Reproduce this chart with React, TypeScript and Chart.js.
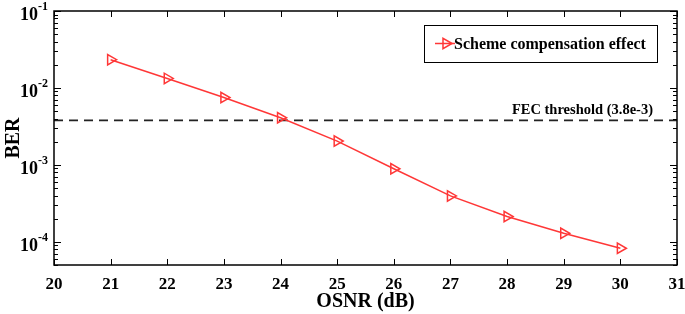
import React, { useEffect, useRef } from "react";
import { Chart, registerables } from "chart.js";

Chart.register(...registerables);

const osnr = [21, 22, 23, 24, 25, 26, 27, 28, 29, 30];
const ber = [0.0233, 0.0133, 0.0075, 0.0041, 0.00204, 0.00089, 0.000395, 0.000213, 0.000129, 0.0000825];
const fecThreshold = 3.8e-3;
const xTicks = [20, 21, 22, 23, 24, 25, 26, 27, 28, 29, 30, 31];
const yDecades = [-1, -2, -3, -4];
const seriesLabel = "Scheme compensation effect";
const fecLabel = "FEC threshold (3.8e-3)";

const FONT = "'Liberation Serif', 'Times New Roman', serif";
const RED = "rgb(255,55,55)";

export default function App() {
  const ref = useRef<HTMLCanvasElement>(null);
  useEffect(() => {
    document.body.style.margin = "0";
    const canvas = ref.current!;
    const drawRedTri = (ctx: CanvasRenderingContext2D, cx: number, cy: number, r: number) => {
      ctx.beginPath();
      ctx.moveTo(cx + r, cy);
      ctx.lineTo(cx - r * 0.5, cy - r * 0.866);
      ctx.lineTo(cx - r * 0.5, cy + r * 0.866);
      ctx.closePath();
      ctx.stroke();
    };
    const plugin = {
      id: "matlabAxes",
      afterDraw(chart: any) {
        const ctx: CanvasRenderingContext2D = chart.ctx;
        const { left, right, top, bottom } = chart.chartArea;
        const x = chart.scales.x;
        const y = chart.scales.y;
        ctx.save();
        ctx.strokeStyle = "#000";
        ctx.lineWidth = 1.5;
        ctx.strokeRect(left, top, right - left, bottom - top);
        ctx.lineWidth = 1;
        ctx.beginPath();
        for (const v of xTicks) {
          const px = Math.round(x.getPixelForValue(v)) + 0.5;
          ctx.moveTo(px, bottom);
          ctx.lineTo(px, bottom - 6);
          ctx.moveTo(px, top);
          ctx.lineTo(px, top + 6);
        }
        for (let e = -5; e <= -1; e++) {
          for (let m = 1; m <= 9; m++) {
            const v = m * Math.pow(10, e);
            if (v < y.min * 0.999 || v > y.max * 1.001) continue;
            const py = Math.round(y.getPixelForValue(v)) + 0.5;
            const len = m === 1 ? 7 : 4;
            ctx.moveTo(left, py);
            ctx.lineTo(left + len, py);
            ctx.moveTo(right, py);
            ctx.lineTo(right - len, py);
          }
        }
        ctx.stroke();

        // y tick labels
        ctx.fillStyle = "#000";
        ctx.textBaseline = "alphabetic";
        for (const e of yDecades) {
          const py = y.getPixelForValue(Math.pow(10, e));
          ctx.font = `bold 12px ${FONT}`;
          const expStr = `${e}`;
          const ew = ctx.measureText(expStr).width;
          ctx.textAlign = "left";
          ctx.fillText(expStr, left - 6 - ew, py - 1);
          ctx.font = `bold 18px ${FONT}`;
          ctx.textAlign = "right";
          ctx.fillText("10", left - 6 - ew, py + 9);
        }

        // y title
        ctx.save();
        ctx.translate(14, (top + bottom) / 2);
        ctx.rotate(-Math.PI / 2);
        ctx.font = `bold 20px ${FONT}`;
        ctx.textAlign = "center";
        ctx.textBaseline = "middle";
        ctx.fillText("BER", 0, 0);
        ctx.restore();

        // FEC label
        const fy = y.getPixelForValue(fecThreshold);
        ctx.font = `bold 14.5px ${FONT}`;
        ctx.textAlign = "right";
        ctx.textBaseline = "alphabetic";
        ctx.fillText(fecLabel, right - 24, fy - 6);

        // legend
        const lx = 424, ly = 25, lw = 233, lh = 37;
        ctx.fillStyle = "#fff";
        ctx.fillRect(lx, ly, lw, lh);
        ctx.strokeStyle = "#000";
        ctx.lineWidth = 1;
        ctx.strokeRect(lx + 0.5, ly + 0.5, lw, lh);
        const cy = ly + lh / 2;
        ctx.strokeStyle = RED;
        ctx.lineWidth = 1.5;
        ctx.beginPath();
        ctx.moveTo(lx + 11, cy);
        ctx.lineTo(lx + 31, cy);
        ctx.stroke();
        drawRedTri(ctx, lx + 22, cy, 6);
        ctx.fillStyle = "#000";
        ctx.font = `bold 16px ${FONT}`;
        ctx.textAlign = "left";
        ctx.textBaseline = "middle";
        ctx.fillText(seriesLabel, lx + 30, cy + 1);
        ctx.restore();
      },
    };

    const chart = new Chart(canvas, {
      type: "line",
      data: {
        datasets: [
          {
            label: seriesLabel,
            data: osnr.map((v, i) => ({ x: v, y: ber[i] })),
            borderColor: RED,
            backgroundColor: "rgba(0,0,0,0)",
            borderWidth: 1.5,
            pointStyle: "triangle",
            rotation: 90,
            pointRadius: 6,
            pointBorderWidth: 1.5,
            pointBorderColor: RED,
            pointBackgroundColor: "rgba(0,0,0,0)",
            tension: 0,
            order: 1,
          },
          {
            label: "FEC",
            data: [
              { x: 20, y: fecThreshold },
              { x: 31, y: fecThreshold },
            ],
            borderColor: "#222",
            borderWidth: 1.8,
            borderDash: [9, 6],
            pointRadius: 0,
            order: 2,
          },
        ],
      },
      options: {
        animation: false,
        responsive: false,
        maintainAspectRatio: false,
        layout: { padding: { top: 11, right: 8, left: 0, bottom: 0 } },
        plugins: { legend: { display: false }, tooltip: { enabled: false } },
        scales: {
          x: {
            type: "linear",
            min: 20,
            max: 31,
            grid: { display: false, drawTicks: false },
            border: { display: false },
            afterBuildTicks: (s: any) => {
              s.ticks = xTicks.map((v) => ({ value: v }));
            },
            ticks: {
              color: "#000",
              font: { family: FONT, size: 17, weight: "bold" },
              padding: 9,
              maxRotation: 0,
              autoSkip: false,
            },
            title: {
              display: true,
              text: "OSNR (dB)",
              color: "#000",
              font: { family: FONT, size: 20, weight: "bold" },
              padding: { top: 0, bottom: 0 },
            },
            afterFit: (s: any) => {
              s.height = 49;
              s.paddingLeft = 0;
              s.paddingRight = 0;
            },
          },
          y: {
            type: "logarithmic",
            min: 5e-5,
            max: 0.1,
            grid: { display: false, drawTicks: false },
            border: { display: false },
            ticks: { display: false },
            afterFit: (s: any) => {
              s.width = 54;
              s.paddingTop = 0;
              s.paddingBottom = 0;
            },
          },
        },
      },
      plugins: [plugin],
    } as any);
    return () => chart.destroy();
  }, []);
  return <canvas ref={ref} width={685} height={314} style={{ display: "block" }} />;
}
